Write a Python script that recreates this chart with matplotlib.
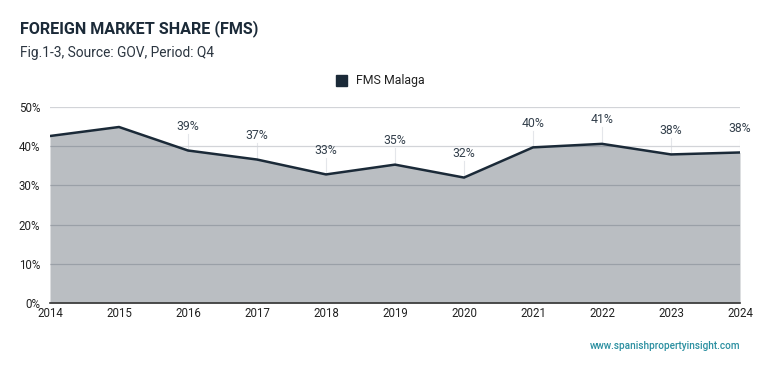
import numpy as np
import matplotlib.pyplot as plt
from matplotlib.patches import Rectangle

years = [2014, 2015, 2016, 2017, 2018, 2019, 2020, 2021, 2022, 2023, 2024]
fms = [42.6, 44.9, 38.9, 36.6, 32.8, 35.3, 32.0, 39.7, 40.6, 37.9, 38.4]
labelled = [2016, 2017, 2018, 2019, 2020, 2021, 2022, 2023, 2024]
label_text = ['39%', '37%', '33%', '35%', '32%', '40%', '41%', '38%', '38%']
yticks = [0, 10, 20, 30, 40, 50]

plt.rcParams['font.family'] = ['Roboto', 'DejaVu Sans']
dark = '#1b2a38'

fig = plt.figure(figsize=(7.59, 3.71), dpi=100)
ax = fig.add_axes([50/759, 68/371, 690/759, 196/371])

# light grid behind a see-through fill, so it shows darker inside the area
ax.grid(axis='y', color='#d2d4d8', lw=0.9, zorder=0)
ax.set_axisbelow(True)
ax.fill_between(years, fms, 0, color=dark, alpha=0.3, lw=0, zorder=1)
ax.plot(years, fms, color=dark, lw=1.8, zorder=3)

for yr, txt in zip(labelled, label_text):
    v = fms[years.index(yr)]
    ax.plot([yr, yr], [v, v + 4.3], color='#e4e6ea', lw=0.8, zorder=0.5)
    ax.text(yr, v + 4.5, txt, ha='center', va='bottom', fontsize=8.8,
            color='#34404c', zorder=4)

ax.set_xlim(2014, 2024)
ax.set_ylim(0, 50)
ax.set_xticks(years)
ax.set_xticklabels([str(y) for y in years])
ax.set_yticks(yticks)
ax.set_yticklabels([f'{t}%' for t in yticks])
for s in ['top', 'right', 'left']:
    ax.spines[s].set_visible(False)
ax.spines['bottom'].set_color('#333333')
ax.spines['bottom'].set_linewidth(1.2)
ax.spines['bottom'].set_zorder(5)
ax.tick_params(axis='both', length=0, labelsize=8.3, colors='#222222')
ax.tick_params(axis='x', pad=3)
ax.tick_params(axis='y', pad=7)
ax.yaxis.get_gridlines()[0].set_visible(False)

fig.text(20/759, 1 - 29/371, 'FOREIGN MARKET SHARE (FMS)', fontsize=11.6,
         fontweight='bold', color=dark, va='center')
fig.text(20/759, 1 - 53/371, 'Fig.1-3, Source: GOV, Period: Q4', fontsize=9.9,
         color='#2b3540', va='center')

fig.patches.append(Rectangle((336/759, 1 - 86/371), 11/759, 11/371,
                             transform=fig.transFigure, color=dark))
fig.text(356/759, 1 - 80.5/371, 'FMS Malaga', fontsize=8.9, color='#222222',
         va='center')

fig.text(740/759, 1 - 346/371, 'www.spanishpropertyinsight.com', fontsize=7.2,
         color='#2a8fa0', ha='right', va='center', fontweight='medium')

fig.savefig('out.png', dpi=100)
